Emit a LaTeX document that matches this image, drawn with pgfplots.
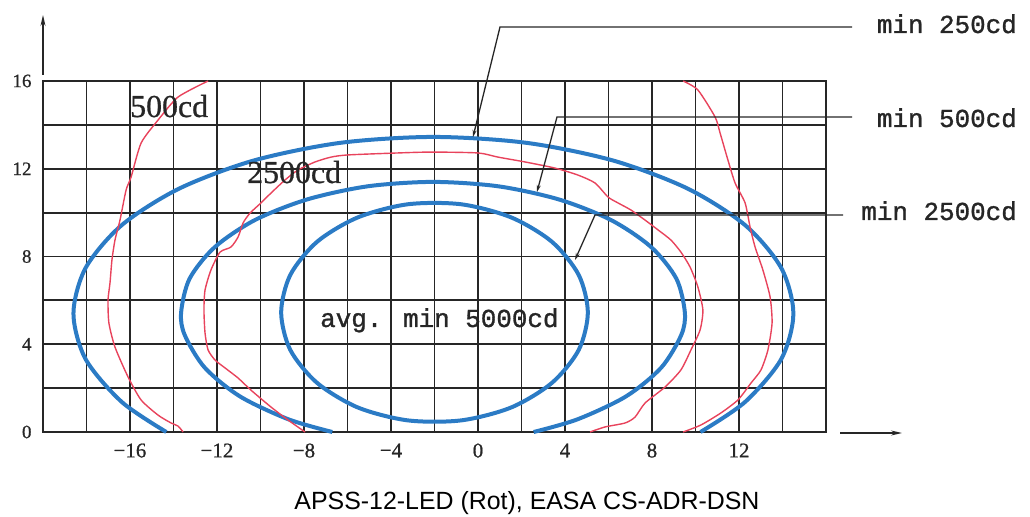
\documentclass[border=0pt]{standalone}
\usepackage{fontspec}
\setmainfont{Liberation Serif}[FakeBold=0.8]
\newfontfamily\monofont{Liberation Mono}[FakeBold=1.2]
\newfontfamily\capfont{Liberation Sans}
\usepackage{pgfplots}
\pgfplotsset{compat=1.18}
\usetikzlibrary{arrows.meta}
\definecolor{curveblue}{HTML}{2B7BC5}
\definecolor{curvered}{HTML}{E8435C}
\definecolor{gridgray}{HTML}{262626}

\begin{document}
\begin{tikzpicture}
\begin{axis}[
    at={(43bp,85bp)}, anchor=south west,
    scale only axis, width=783bp, height=351bp,
    xmin=-20, xmax=16, ymin=0, ymax=16,
    xtick={-20,-18,...,16},
    xticklabels={,,−16,,−12,,−8,,−4,,0,,4,,8,,12,,},
    ytick={0,2,...,16},
    yticklabels={0,,4,,8,,12,,16},
    grid=major,
    major grid style={gridgray, line width=1.8bp},
    axis line style={gridgray, line width=1.8bp},
    major tick length=0pt,
    tick label style={text=black!85},
    xticklabel style={font=\fontsize{21}{23}\selectfont, yshift=-8bp},
    yticklabel style={font=\fontsize{19}{21}\selectfont, xshift=-8bp},
    clip=false,
]

% min 250cd
\addplot[curveblue, line width=4bp, smooth] coordinates {
    (-14.33,0) (-16.38,1.37) (-18.04,3.32) (-18.60,5.40) (-18.04,7.48)
    (-16.38,9.43) (-13.75,11.09) (-10.33,12.37) (-6.34,13.18) (-2.05,13.45)
    (2.24,13.18) (6.23,12.37) (9.65,11.09) (12.28,9.43) (13.94,7.48)
    (14.50,5.40) (13.94,3.32) (12.28,1.37) (10.23,0)
};
% min 500cd
\addplot[curveblue, line width=4bp, smooth] coordinates {
    (-6.70,0) (-8.72,0.58) (-10.94,1.62) (-12.56,2.93) (-13.48,4.41)
    (-13.65,5.45) (-13.26,6.99) (-12.10,8.43) (-10.26,9.66) (-7.86,10.60)
    (-5.07,11.20) (-2.07,11.40) (0.93,11.20) (3.72,10.60) (6.12,9.66)
    (7.96,8.43) (9.12,6.99) (9.51,5.45) (9.34,4.41) (8.42,2.93)
    (6.80,1.62) (4.58,0.58) (2.56,0)
};
% min 2500cd
\addplot[curveblue, line width=4bp, smooth cycle] coordinates {
    (5.05,5.45) (4.63,7.16) (3.40,8.67) (1.53,9.78) (-0.77,10.38)
    (-3.23,10.38) (-5.53,9.78) (-7.40,8.67) (-8.63,7.16) (-9.05,5.45)
    (-8.63,3.74) (-7.40,2.24) (-5.53,1.12) (-3.23,0.53) (-0.77,0.53)
    (1.53,1.12) (3.40,2.24) (4.63,3.74)
};

% 500cd, left
\addplot[curvered, line width=1.4bp, smooth, tension=0.4] coordinates {
    (-12.41,16.0) (-13.79,15.27) (-14.71,14.22) (-15.49,13.17) (-15.95,11.62)
    (-16.18,11.03) (-16.46,9.66) (-16.69,8.75) (-16.83,7.84) (-16.92,6.79)
    (-17.01,6.02) (-16.97,4.97) (-16.69,3.87) (-16.09,2.51) (-15.49,1.46)
    (-14.71,0.77) (-14.11,0.41) (-13.79,0.27) (-13.56,0)
};
% 500cd, right
\addplot[curvered, line width=1.4bp, smooth, tension=0.4] coordinates {
    (9.43,16.0) (10.11,15.59) (10.90,14.36) (11.13,13.63) (11.49,12.40)
    (11.82,11.35) (12.28,10.44) (12.51,9.34) (12.74,8.43) (13.10,7.38)
    (13.43,6.15) (13.52,4.97) (13.33,3.74) (13.01,2.83) (12.55,2.23)
    (11.95,1.46) (11.17,0.87) (10.25,0.32) (9.43,0)
};
% 2500cd
\addplot[curvered, line width=1.4bp, smooth, tension=0.4] coordinates {
    (-7.95,0) (-8.74,0.55) (-9.52,1.14) (-10.44,1.91) (-11.03,2.46)
    (-11.63,2.92) (-12.09,3.28) (-12.41,3.74) (-12.55,4.51) (-12.60,5.56)
    (-12.55,6.47) (-12.28,7.38) (-11.86,8.20) (-11.36,8.43) (-11.03,8.89)
    (-10.80,9.53) (-10.48,9.98) (-9.98,10.44) (-9.52,10.89) (-8.87,11.49)
    (-8.28,11.94) (-7.49,12.31) (-6.76,12.53) (-5.98,12.63) (-3.68,12.72)
    (-2.16,12.76) (0,12.72) (0.92,12.53) (2.16,12.31) (3.54,12.03)
    (4.60,11.71) (5.38,11.35) (5.98,10.71) (6.44,10.44) (7.03,10.12)
    (7.68,9.66) (8.28,9.21) (8.87,8.75) (9.33,8.20) (9.75,7.52)
    (10.11,6.61) (10.34,5.56) (10.21,4.65) (9.79,3.74) (9.33,2.83)
    (8.60,2.05) (7.68,1.32) (7.22,0.68) (6.76,0.41) (5.84,0.23) (5.15,0)
};
\end{axis}

% axis arrows
\draw[black!85, line width=1.4bp, -{Stealth[length=11bp, width=5bp]}] (43bp,442bp) -- (43bp,502bp);
\draw[black!85, line width=1.4bp, -{Stealth[length=11bp, width=5bp]}] (840bp,84bp) -- (902bp,84bp);

% leader lines
\draw[black!85, line width=1.3bp, {Stealth[length=7bp, width=4bp]}-] (473bp,380bp) -- (500bp,490bp) -- (852bp,490bp);
\draw[black!85, line width=1.3bp, {Stealth[length=7bp, width=4bp]}-] (537bp,325bp) -- (557bp,400bp) -- (852bp,400bp);
\draw[black!85, line width=1.3bp, {Stealth[length=7bp, width=4bp]}-] (575bp,257bp) -- (595bp,302bp) -- (843bp,302bp);

% labels
\node[anchor=base east, inner sep=0pt, font=\monofont\fontsize{26}{28}\selectfont, text=black!85] at (1017bp,484bp) {min 250cd};
\node[anchor=base east, inner sep=0pt, font=\monofont\fontsize{26}{28}\selectfont, text=black!85] at (1017bp,390bp) {min 500cd};
\node[anchor=base east, inner sep=0pt, font=\monofont\fontsize{26}{28}\selectfont, text=black!85] at (1017bp,297bp) {min 2500cd};
\node[anchor=base west, inner sep=0pt, font=\monofont\fontsize{26}{28}\selectfont, text=black!85] at (320bp,190bp) {avg. min 5000cd};
\node[anchor=base west, inner sep=0pt, font=\fontsize{32}{34}\selectfont, text=black!85] at (130bp,400bp) {500cd};
\node[anchor=base west, inner sep=0pt, font=\fontsize{32}{34}\selectfont, text=black!85] at (247bp,334bp) {2500cd};
\node[anchor=base, inner sep=0pt, font=\capfont\fontsize{25}{27}\selectfont] at (527bp,8bp) {APSS-12-LED (Rot), EASA CS-ADR-DSN};

\pgfresetboundingbox
\path[use as bounding box] (0,0) rectangle (1030bp,517bp);
\end{tikzpicture}
\end{document}
